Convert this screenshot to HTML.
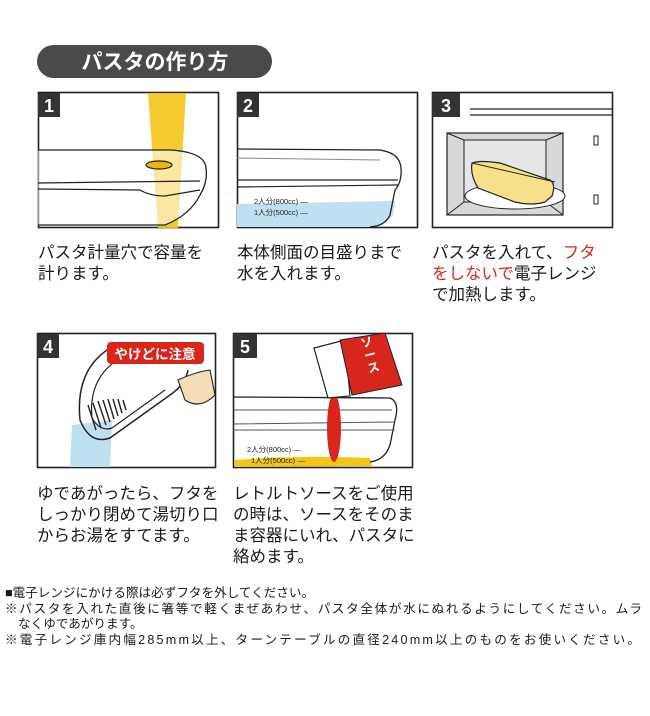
<!DOCTYPE html>
<html><head><meta charset="utf-8"><style>
body{margin:0;background:#fff;width:650px;height:711px;overflow:hidden}
svg text{font-family:"Liberation Sans","Noto Sans CJK JP",sans-serif}
</style></head><body>
<svg width="650" height="711" viewBox="0 0 650 711" xmlns="http://www.w3.org/2000/svg">
<!-- title -->
<rect x="37" y="45" width="235" height="33" rx="16.5" fill="#4a4a4a"/>
<text x="155" y="69" font-size="21" fill="#fff" text-anchor="middle" font-weight="bold">パスタの作り方</text>

<!-- Panel 1 -->
<g>
<rect x="38.5" y="92.5" width="180" height="135" fill="#fff" stroke="#222" stroke-width="1.6"/>
<polygon points="148,93 186,93 178,228 158,228" fill="#f5c518" opacity="0.9"/>
<path d="M38 150 L170 150 Q205 152 206 168 Q208 182 200 195 Q190 215 165 225 L38 225" fill="#fff" fill-opacity="0.55" stroke="#222" stroke-width="1.3"/>
<path d="M38 183 L200 181" stroke="#222" stroke-width="1.3"/>
<path d="M38 189 L140 190 Q150 196 165 196 L200 190" fill="none" stroke="#222" stroke-width="1.3"/>
<ellipse cx="159" cy="165" rx="13" ry="4" fill="#f0b800" stroke="#222" stroke-width="1.2"/>
<rect x="38" y="93" width="22" height="24" fill="#333"/>
<text x="49" y="112" font-size="18" font-weight="bold" fill="#fff" text-anchor="middle">1</text>
</g>

<!-- Panel 2 -->
<g>
<rect x="237.5" y="92.5" width="180" height="135" fill="#fff" stroke="#222" stroke-width="1.6"/>
<path d="M237 204 L395 201 L393 215 Q385 226 375 227 L237 227Z" fill="#bfe0f0"/>
<path d="M237 149 L380 150 Q400 153 401 168 Q402 182 395 190 L390 215 Q385 226 370 227" fill="none" stroke="#222" stroke-width="1.3"/>
<path d="M237 158 L380 160" stroke="#888" stroke-width="1"/>
<path d="M237 180 L398 180 M237 187 L398 185" stroke="#222" stroke-width="1.2"/>
<text x="254" y="204" font-size="7.5" fill="#222">2人分(800cc) —</text>
<text x="254" y="215" font-size="7.5" fill="#222">1人分(500cc) —</text>
<rect x="237" y="93" width="22" height="24" fill="#333"/>
<text x="248" y="112" font-size="18" font-weight="bold" fill="#fff" text-anchor="middle">2</text>
</g>

<!-- Panel 3 -->
<g>
<rect x="432.5" y="92.5" width="180" height="135" fill="#fff" stroke="#222" stroke-width="1.6"/>
<path d="M470 109 L612 109 M470 115 L612 115" stroke="#222" stroke-width="1.2"/>
<rect x="447" y="133" width="116" height="82" fill="#d8d8d8" stroke="#222" stroke-width="1.2"/>
<rect x="464" y="140" width="82" height="62" fill="#e6e6e6" stroke="#222" stroke-width="1"/>
<path d="M447 215 L464 202 M563 215 L546 202 M447 133 L464 140 M563 133 L546 140" stroke="#222"/>
<ellipse cx="515" cy="196" rx="50" ry="13" fill="#fff" stroke="#222"/>
<path d="M472 163 Q480 160 500 163 L550 180 Q556 184 552 196 L545 202 Q532 206 515 202 L478 188 Q470 175 472 163Z" fill="#f7e08a" stroke="#222" stroke-width="1.2"/>
<path d="M472 163 L555 182" stroke="#222"/>
<rect x="594" y="136" width="4" height="9" fill="#fff" stroke="#222"/>
<rect x="594" y="195" width="4" height="9" fill="#fff" stroke="#222"/>
<rect x="432" y="93" width="28" height="24" fill="#333"/>
<text x="446" y="112" font-size="18" font-weight="bold" fill="#fff" text-anchor="middle">3</text>
</g>

<!-- Panel 4 -->
<g>
<rect x="37.5" y="333.5" width="178" height="134" fill="#fff" stroke="#222" stroke-width="1.6"/>
<polygon points="72,425 112,420 110,467 70,467" fill="#bfe0f0"/>
<path d="M110 348 Q75 370 80 420 Q90 445 110 438 L170 395 Q185 385 188 370" fill="none" stroke="#222" stroke-width="1.5"/>
<path d="M120 358 Q88 378 92 418 Q100 432 112 428 L165 390" fill="none" stroke="#222" stroke-width="1.2"/>
<g stroke="#222" stroke-width="1.4">
<path d="M88 405 L96 430 M93 403 L101 428 M98 401 L106 425 M103 400 L110 422 M108 399 L114 419 M113 399 L118 416 M118 399 L122 413 M123 400 L126 410"/>
</g>
<path d="M178 380 Q195 372 210 370 L215 395 Q200 410 185 400Z" fill="#f6ddb5" stroke="#222" stroke-width="1.1"/>
<rect x="107" y="342" width="97" height="22" rx="4" fill="#d9261c"/>
<text x="155" y="359" font-size="13.5" font-weight="bold" fill="#fff" text-anchor="middle">やけどに注意</text>
<rect x="37" y="334" width="22" height="24" fill="#333"/>
<text x="48" y="353" font-size="18" font-weight="bold" fill="#fff" text-anchor="middle">4</text>
</g>

<!-- Panel 5 -->
<g>
<rect x="233.5" y="333.5" width="179" height="134" fill="#fff" stroke="#222" stroke-width="1.6"/>
<path d="M235 460 Q300 455 370 458 L372 466 L235 467Z" fill="#f5c518"/>
<path d="M233 397 L390 398 Q400 402 395 420 L390 445 Q385 460 370 462" fill="none" stroke="#222" stroke-width="1.3"/>
<path d="M233 410 L392 410 M233 424 L395 422 M233 430 L395 430" stroke="#555" stroke-width="1"/>
<ellipse cx="334" cy="428" rx="7" ry="34" fill="#d9261c"/>
<polygon points="314,348 345,340 350,396 328,398" fill="#fff" stroke="#222" stroke-width="1.2"/>
<polygon points="340,340 385,333 402,385 352,395" fill="#d9261c" stroke="#222" stroke-width="1"/>
<text x="362" y="348" font-size="12" font-weight="bold" fill="#fff" transform="rotate(-15 362 348)"><tspan x="362" dy="0">ソ</tspan><tspan x="362" dy="13">ー</tspan><tspan x="362" dy="13">ス</tspan></text>
<text x="247" y="452" font-size="7.5" fill="#222">2人分(800cc) —</text>
<text x="251" y="463" font-size="7.5" fill="#222">1人分(500cc) —</text>
<rect x="233" y="334" width="24" height="24" fill="#333"/>
<text x="245" y="353" font-size="18" font-weight="bold" fill="#fff" text-anchor="middle">5</text>
</g>

<!-- captions -->
<g font-size="16.5" fill="#1a1a1a">
<text x="38" y="258">パスタ計量穴で容量を</text>
<text x="38" y="279">計ります。</text>
<text x="237" y="258">本体側面の目盛りまで</text>
<text x="237" y="279">水を入れます。</text>
<text x="432" y="258">パスタを入れて、<tspan fill="#d9261c">フタ</tspan></text>
<text x="432" y="279"><tspan fill="#d9261c">をしないで</tspan>電子レンジ</text>
<text x="432" y="300">で加熱します。</text>
<text x="37" y="499">ゆであがったら、フタを</text>
<text x="37" y="520">しっかり閉めて湯切り口</text>
<text x="37" y="541">からお湯をすてます。</text>
<text x="233" y="499">レトルトソースをご使用</text>
<text x="233" y="520">の時は、ソースをそのま</text>
<text x="233" y="541">ま容器にいれ、パスタに</text>
<text x="233" y="562">絡めます。</text>
</g>
<g font-size="12.6" fill="#1a1a1a">
<text x="5" y="597">■電子レンジにかける際は必ずフタを外してください。</text>
<text x="5" y="613" textLength="637">※パスタを入れた直後に箸等で軽くまぜあわせ、パスタ全体が水にぬれるようにしてください。ムラ</text>
<text x="18" y="628">なくゆであがります。</text>
<text x="5" y="644" textLength="635">※電子レンジ庫内幅285mm以上、ターンテーブルの直径240mm以上のものをお使いください。</text>
</g>
</svg>
</body></html>
